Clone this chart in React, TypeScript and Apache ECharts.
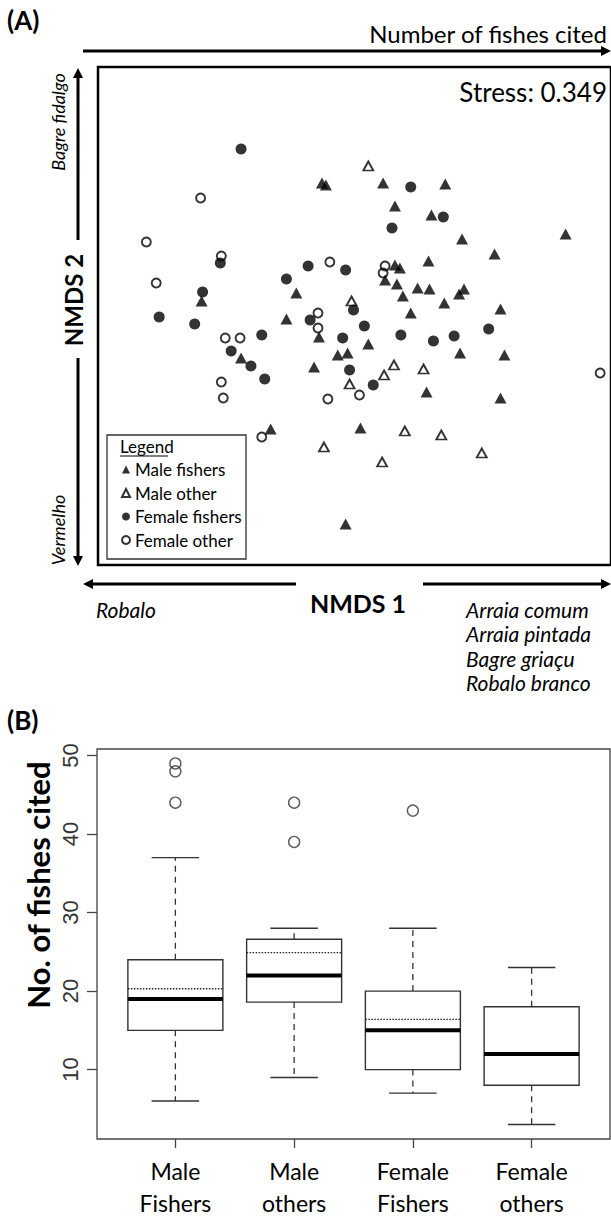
import React, { useEffect, useRef } from "react";
import * as echarts from "echarts";

const FONT = "Lato, 'Open Sans', sans-serif";

// ---- Panel A : NMDS scores [NMDS1, NMDS2] ----
const maleFishers: number[][] = [
  [0.135, 0.62], [0.155, 0.61], [0.445, 0.62], [0.76, 0.615], [0.505, 0.505],
  [0.69, 0.46], [0.845, 0.34], [1.37, 0.365], [1.01, 0.265], [0.675, 0.23],
  [0.505, 0.21], [0.53, 0.195], [0.455, 0.135], [0.515, 0.115], [0.62, 0.095],
  [0.68, 0.09], [0.855, 0.09], [0.83, 0.065], [0.545, 0.055], [0.755, 0.02],
  [1.04, -0.01], [0.585, -0.03], [0.37, -0.185], [0.215, -0.24], [0.265, -0.23],
  [0.835, -0.23], [1.06, -0.24], [0.665, -0.425], [1.04, -0.455], [0.33, -0.605],
  [0.255, -1.085], [-0.475, 0.03], [0.005, 0.07], [-0.045, -0.06], [0.12, -0.15],
  [-0.275, -0.255], [0.095, -0.3], [-0.125, -0.61],
];
const maleOther: number[][] = [
  [0.37, 0.705], [0.285, 0.03], [0.5, -0.29], [0.45, -0.34], [0.65, -0.31],
  [0.275, -0.385], [0.555, -0.62], [0.74, -0.64], [0.44, -0.775], [0.945, -0.73],
  [0.145, -0.7],
];
const femaleFishers: number[][] = [
  [-0.275, 0.79], [0.585, 0.6], [0.75, 0.45], [0.49, 0.395], [-0.38, 0.22],
  [-0.47, 0.075], [-0.69, -0.05], [-0.51, -0.085], [-0.17, -0.14], [-0.325, -0.22],
  [-0.225, -0.295], [-0.155, -0.36], [0.065, 0.205], [0.255, 0.185], [-0.045, 0.14],
  [0.075, -0.065], [0.24, -0.155], [0.295, -0.015], [0.35, -0.095], [0.535, -0.14],
  [0.7, -0.17], [0.805, -0.145], [0.98, -0.11], [0.275, -0.315], [0.395, -0.39],
];
const femaleOther: number[][] = [
  [-0.48, 0.545], [-0.755, 0.325], [-0.375, 0.255], [-0.705, 0.12], [-0.355, -0.155],
  [-0.28, -0.155], [-0.375, -0.375], [-0.365, -0.455], [0.175, 0.225], [0.115, -0.03],
  [0.115, -0.105], [0.165, -0.46], [-0.17, -0.65], [0.455, 0.205], [0.445, 0.17],
  [0.325, -0.44], [1.545, -0.33],
];
const seriesNamesA = ["Male fishers", "Male other", "Female fishers", "Female other"];
const westSpecies = ["Robalo"];
const eastSpecies = ["Arraia comum", "Arraia pintada", "Bagre griaçu", "Robalo branco"];
const northSpecies = "Bagre fidalgo";
const southSpecies = "Vermelho";
const stressLabel = "Stress: 0.349";

// ---- Panel B : boxplots of number of fishes cited ----
const groups = ["Male\nFishers", "Male\nothers", "Female\nFishers", "Female\nothers"];
const whiskerLow = [6, 9, 7, 3];
const q1 = [15, 18.6, 10, 8];
const medians = [19, 22, 15, 12];
const q3 = [24, 26.6, 20, 18];
const whiskerHigh = [37, 28, 28, 23];
const means = [20.3, 24.9, 16.4, 11.8];
const outliers: number[][] = [[1, 44], [1, 48], [1, 49], [2, 39], [2, 44], [3, 43]];
const yTicksB = [10, 20, 30, 40, 50];
const yNameB = "No. of fishes cited";

function arrowHead(tipX: number, tipY: number, dir: "l" | "r" | "u" | "d") {
  const L = 10, W = 5;
  let pts: number[][];
  if (dir === "r") pts = [[tipX, tipY], [tipX - L, tipY - W], [tipX - L, tipY + W]];
  else if (dir === "l") pts = [[tipX, tipY], [tipX + L, tipY - W], [tipX + L, tipY + W]];
  else if (dir === "u") pts = [[tipX, tipY], [tipX - W, tipY + L], [tipX + W, tipY + L]];
  else pts = [[tipX, tipY], [tipX - W, tipY - L], [tipX + W, tipY - L]];
  return { type: "polygon", shape: { points: pts }, style: { fill: "#000" }, silent: true };
}
function seg(x1: number, y1: number, x2: number, y2: number, w = 3) {
  return { type: "line", shape: { x1, y1, x2, y2 }, style: { stroke: "#000", lineWidth: w }, silent: true };
}
function txt(text: string, x: number, y: number, font: string, align = "left", rotation = 0) {
  return {
    type: "text", x, y, rotation, silent: true,
    style: { text, font, fill: "#000", textAlign: align, textVerticalAlign: "middle" },
  };
}

export default function App() {
  const ref = useRef<HTMLDivElement>(null);
  useEffect(() => {
    if (!ref.current) return;
    const chart = echarts.init(ref.current, undefined, { renderer: "svg" });

    const boxData = groups.map((_, i) => [i + 1, whiskerLow[i], q1[i], medians[i], q3[i], whiskerHigh[i], means[i]]);

    const renderBox = (params: any, api: any) => {
      const x = api.value(0);
      const lo = api.value(1), a = api.value(2), m = api.value(3), b = api.value(4), hi = api.value(5), mu = api.value(6);
      const hw = 0.4, cw = 0.2;
      const P = (xx: number, yy: number) => api.coord([xx, yy]);
      const [xl, yA] = P(x - hw, a);
      const [xr, yB] = P(x + hw, b);
      const [xc, yLo] = P(x, lo);
      const [, yHi] = P(x, hi);
      const [, yM] = P(x, m);
      const [, yMu] = P(x, mu);
      const [cl] = P(x - cw, lo);
      const [cr] = P(x + cw, lo);
      const stroke = "#333";
      const L = (x1: number, y1: number, x2: number, y2: number, w: number, dash?: number[], col = stroke) => ({
        type: "line", shape: { x1, y1, x2, y2 }, style: { stroke: col, lineWidth: w, lineDash: dash || null },
      });
      return {
        type: "group",
        children: [
          L(xc, yB, xc, yHi, 1.3, [6, 5]),
          L(xc, yA, xc, yLo, 1.3, [6, 5]),
          L(cl, yHi, cr, yHi, 1.4),
          L(cl, yLo, cr, yLo, 1.4),
          { type: "rect", shape: { x: xl, y: yB, width: xr - xl, height: yA - yB }, style: { fill: "#fff", stroke, lineWidth: 1.4 } },
          L(xl, yMu, xr, yMu, 1.3, [1.5, 1.5], "#222"),
          L(xl, yM, xr, yM, 4, undefined, "#000"),
        ],
      };
    };

    const option: any = {
      animation: false,
      backgroundColor: "#fff",
      grid: [
        { left: 98, top: 67, width: 520, height: 498, show: true, borderColor: "#000", borderWidth: 2.5, backgroundColor: "transparent" },
        { left: 97, top: 749, width: 513, height: 390, show: true, borderColor: "#444", borderWidth: 1.3, backgroundColor: "transparent" },
      ],
      xAxis: [
        { type: "value", gridIndex: 0, min: -1, max: 1.6, show: false },
        {
          type: "value", gridIndex: 1, min: 0.34, max: 4.66,
          axisLine: { show: false }, splitLine: { show: false },
          axisTick: { show: true, customValues: [1, 2, 3, 4], length: 9, lineStyle: { color: "#444", width: 1.3 } },
          axisLabel: {
            show: true, customValues: [1, 2, 3, 4], margin: 16,
            formatter: (v: number) => groups[Math.round(v) - 1] || "",
            fontFamily: FONT, fontSize: 23, lineHeight: 32, color: "#000",
          },
        },
      ],
      yAxis: [
        { type: "value", gridIndex: 0, min: -1.29, max: 1.2, show: false },
        {
          type: "value", gridIndex: 1, min: 1.16, max: 50.84,
          axisLine: { show: false }, splitLine: { show: false },
          axisTick: { show: true, customValues: yTicksB, length: 10, lineStyle: { color: "#444", width: 1.3 } },
          axisLabel: {
            show: true, customValues: yTicksB, rotate: 90, margin: 16,
            fontFamily: "'Liberation Sans', Arial, sans-serif", fontSize: 22, color: "#333",
          },
        },
      ],
      legend: {
        show: true, orient: "vertical", left: 121, top: 461, itemWidth: 8, itemHeight: 8, itemGap: 6.5,
        selectedMode: false, padding: 0,
        data: seriesNamesA,
        textStyle: { fontFamily: FONT, fontSize: 17, color: "#000" },
      },
      series: [
        { name: seriesNamesA[0], type: "scatter", xAxisIndex: 0, yAxisIndex: 0, data: maleFishers, symbol: "triangle", symbolSize: [12, 11], itemStyle: { color: "#000" } },
        { name: seriesNamesA[1], type: "scatter", xAxisIndex: 0, yAxisIndex: 0, data: maleOther, symbol: "triangle", symbolSize: [10, 9], itemStyle: { color: "rgba(255,255,255,0)", borderColor: "#000", borderWidth: 1.8 } },
        { name: seriesNamesA[2], type: "scatter", xAxisIndex: 0, yAxisIndex: 0, data: femaleFishers, symbol: "circle", symbolSize: 11, itemStyle: { color: "#000" } },
        { name: seriesNamesA[3], type: "scatter", xAxisIndex: 0, yAxisIndex: 0, data: femaleOther, symbol: "circle", symbolSize: 9, itemStyle: { color: "rgba(255,255,255,0)", borderColor: "#000", borderWidth: 1.9 } },
        { name: "box", type: "custom", xAxisIndex: 1, yAxisIndex: 1, data: boxData, renderItem: renderBox, encode: { x: 0, y: [1, 2, 3, 4, 5] }, silent: true },
        { name: "outliers", type: "scatter", xAxisIndex: 1, yAxisIndex: 1, data: outliers, symbol: "circle", symbolSize: 11, itemStyle: { color: "rgba(255,255,255,0)", borderColor: "#333", borderWidth: 1.4 }, silent: true },
      ],
      graphic: [
        txt("(A)", 7, 20, `bold 26px ${FONT}`),
        txt("Number of fishes cited", 607, 33, `24px ${FONT}`, "right"),
        seg(83, 51, 603, 51), arrowHead(611, 51, "r"),
        txt(stressLabel, 607, 92, `26px ${FONT}`, "right"),
        // left NMDS2 arrow
        seg(78, 76, 78, 240), arrowHead(78, 68, "u"),
        seg(78, 358, 78, 558), arrowHead(78, 566, "d"),
        txt("NMDS 2", 73, 300, `bold 24px ${FONT}`, "center", Math.PI / 2),
        txt(northSpecies, 58, 122, `italic 18px ${FONT}`, "center", Math.PI / 2),
        txt(southSpecies, 58, 530, `italic 18px ${FONT}`, "center", Math.PI / 2),
        // bottom NMDS1 arrow
        seg(91, 584, 296, 584), arrowHead(83, 584, "l"),
        seg(423, 584, 603, 584), arrowHead(611, 584, "r"),
        txt("NMDS 1", 358, 603, `bold 25px ${FONT}`, "center"),
        txt(westSpecies[0], 96, 609, `italic 21px ${FONT}`),
        ...eastSpecies.map((s, i) => txt(s, 466, 609 + i * 24.5, `italic 21px ${FONT}`)),
        // legend frame
        { type: "rect", shape: { x: 107, y: 435, width: 139, height: 124 }, style: { fill: "none", stroke: "#333", lineWidth: 1.3 }, silent: true },
        txt("Legend", 120, 446, `17px ${FONT}`),
        seg(120, 456, 168, 456, 1),
        // panel B label + y name
        txt("(B)", 7, 720, `bold 26px ${FONT}`),
        txt(yNameB, 38, 885, `bold 31px ${FONT}`, "center", Math.PI / 2),
      ],
    };
    chart.setOption(option);
    return () => chart.dispose();
  }, []);
  return <div ref={ref} style={{ position: "absolute", left: 0, top: 0, width: 611, height: 1223 }} />;
}
